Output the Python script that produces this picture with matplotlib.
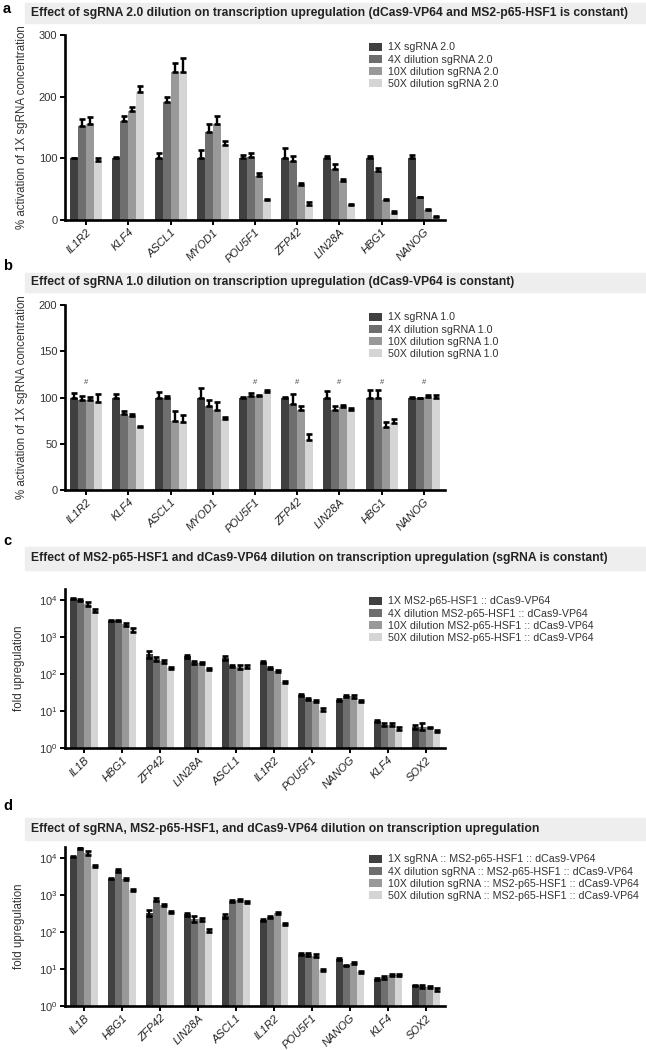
"""
Dilution series of sgRNA / activator components, four bar panels
"""

import matplotlib
matplotlib.use("Agg")
import matplotlib.pyplot as plt
import numpy as np
from matplotlib.patches import Rectangle
from matplotlib.ticker import LogLocator, NullLocator

plt.rcParams['font.family'] = ['Liberation Sans', 'DejaVu Sans']

colors = ['#404040', '#6e6e6e', '#999999', '#d5d5d5']

# panel a
genes_a = ['IL1R2', 'KLF4', 'ASCL1', 'MYOD1', 'POU5F1', 'ZFP42', 'LIN28A', 'HBG1', 'NANOG']
labels_a = ['1X sgRNA 2.0', '4X dilution sgRNA 2.0', '10X dilution sgRNA 2.0', '50X dilution sgRNA 2.0']
a_1x = [100, 100, 100, 100, 100, 100, 101, 100, 100]
a_4x = [153, 160, 192, 143, 102, 96, 82, 79, 37]
a_10x = [155, 177, 240, 155, 72, 56, 63, 32, 17]
a_50x = [95, 207, 240, 122, 32, 25, 25, 12, 5]
a_err_1x = [1, 2, 8, 14, 5, 17, 2, 3, 5]
a_err_4x = [10, 8, 7, 12, 7, 8, 9, 5, 1]
a_err_10x = [12, 6, 14, 13, 5, 4, 3, 2, 1]
a_err_50x = [5, 10, 22, 6, 2, 5, 1, 2, 1]

# panel b
genes_b = genes_a
labels_b = ['1X sgRNA 1.0', '4X dilution sgRNA 1.0', '10X dilution sgRNA 1.0', '50X dilution sgRNA 1.0']
b_1x = [100, 100, 100, 100, 100, 100, 100, 100, 100]
b_4x = [97, 82, 100, 91, 102, 93, 87, 99, 99]
b_10x = [97, 80, 75, 87, 102, 86, 90, 68, 101]
b_50x = [95, 68, 73, 77, 106, 54, 87, 72, 100]
b_err_1x = [5, 4, 6, 10, 1, 1, 7, 8, 1]
b_err_4x = [5, 3, 2, 6, 3, 11, 4, 9, 1]
b_err_10x = [4, 2, 10, 8, 1, 5, 2, 5, 2]
b_err_50x = [9, 1, 8, 2, 2, 7, 2, 5, 3]
b_hash = [True, False, False, False, True, True, True, True, True]

# panel c
genes_c = ['IL1B', 'HBG1', 'ZFP42', 'LIN28A', 'ASCL1', 'IL1R2', 'POU5F1', 'NANOG', 'KLF4', 'SOX2']
labels_c = ['1X MS2-p65-HSF1 :: dCas9-VP64', '4X dilution MS2-p65-HSF1 :: dCas9-VP64',
            '10X dilution MS2-p65-HSF1 :: dCas9-VP64', '50X dilution MS2-p65-HSF1 :: dCas9-VP64']
c_1x = [11000, 2800, 350, 300, 270, 210, 27, 20, 5.3, 3.7]
c_4x = [10000, 2800, 260, 210, 170, 150, 21, 26, 4.3, 3.8]
c_10x = [8000, 2200, 220, 200, 160, 120, 19, 25, 4.3, 3.6]
c_50x = [5300, 1600, 150, 140, 160, 62, 11, 19, 3.3, 2.9]
c_err_1x = [600, 150, 80, 20, 30, 15, 2, 1.5, 0.3, 0.4]
c_err_4x = [500, 150, 30, 20, 10, 10, 1.5, 2, 0.3, 0.8]
c_err_10x = [900, 150, 20, 15, 20, 8, 1, 2, 0.3, 0.2]
c_err_50x = [500, 200, 10, 10, 15, 4, 0.8, 1.5, 0.3, 0.2]

# panel d
genes_d = genes_c
labels_d = ['1X sgRNA :: MS2-p65-HSF1 :: dCas9-VP64', '4X dilution sgRNA :: MS2-p65-HSF1 :: dCas9-VP64',
            '10X dilution sgRNA :: MS2-p65-HSF1 :: dCas9-VP64', '50X dilution sgRNA :: MS2-p65-HSF1 :: dCas9-VP64']
d_1x = [11000, 2800, 330, 300, 270, 210, 26, 19, 5.5, 3.6]
d_4x = [19000, 4700, 750, 230, 700, 260, 25, 12.5, 6, 3.4]
d_10x = [14000, 2700, 550, 220, 750, 330, 23, 14.5, 7, 3.3]
d_50x = [6000, 1400, 350, 110, 650, 170, 9.5, 8.5, 7, 2.8]
d_err_1x = [500, 150, 60, 30, 30, 15, 2, 1.5, 0.3, 0.2]
d_err_4x = [1500, 400, 60, 40, 50, 20, 2.5, 0.6, 0.6, 0.3]
d_err_10x = [1500, 200, 40, 20, 40, 25, 2, 0.8, 0.4, 0.2]
d_err_50x = [400, 100, 20, 8, 50, 10, 0.6, 0.5, 0.4, 0.2]

titles = [
    'Effect of sgRNA 2.0 dilution on transcription upregulation (dCas9-VP64 and MS2-p65-HSF1 is constant)',
    'Effect of sgRNA 1.0 dilution on transcription upregulation (dCas9-VP64 is constant)',
    'Effect of MS2-p65-HSF1 and dCas9-VP64 dilution on transcription upregulation (sgRNA is constant)',
    'Effect of sgRNA, MS2-p65-HSF1, and dCas9-VP64 dilution on transcription upregulation',
]

W, H = 646, 1050


def px_box(left, top, right, bottom):
    # pixel box -> figure fraction rect
    return [left / W, 1 - bottom / H, (right - left) / W, (bottom - top) / H]


def header(fig, letter, band_top, band_bottom, title, letter_y):
    fig.patches.append(Rectangle((25 / W, 1 - band_bottom / H), 1 - 25 / W, (band_bottom - band_top) / H,
                                 transform=fig.transFigure, color='#eeeeee', zorder=0))
    fig.text(31 / W, 1 - (band_top + band_bottom) / 2 / H, title, fontsize=8.7, fontweight='bold',
             color='#222222', va='center', ha='left')
    fig.text(3 / W, 1 - letter_y / H, letter, fontsize=10.5, fontweight='bold', va='center', ha='left')


def bar_panel(ax, genes, series, errs, labels, log=False, symmetric=False):
    n = len(genes)
    x = np.arange(n)
    width = 0.19
    offsets = (np.arange(4) - 1.5) * width
    for i in range(4):
        vals = np.array(series[i], dtype=float)
        err = np.array(errs[i], dtype=float)
        ax.bar(x + offsets[i], vals, width, color=colors[i], label=labels[i], zorder=2)
        lower = err if symmetric else np.zeros_like(err)
        ax.errorbar(x + offsets[i], vals, yerr=[lower, err], fmt='none', ecolor='black',
                    elinewidth=1.7, capsize=2, capthick=1.9, zorder=3)
    ax.set_xlim(-0.5, n - 0.5)
    ax.set_xticks(x)
    ax.set_xticklabels(genes, rotation=45, ha='right', rotation_mode='anchor',
                       fontstyle='italic', fontsize=7.5, color='#222222')
    for side in ['top', 'right']:
        ax.spines[side].set_visible(False)
    for side in ['left', 'bottom']:
        ax.spines[side].set_linewidth(1.9)
    ax.tick_params(axis='both', direction='out', length=3.5, width=1.4, colors='black',
                   labelsize=8, labelcolor='#333333', pad=2)
    ax.tick_params(axis='x', labelcolor='#222222', pad=1.5)
    if log:
        ax.set_yscale('log')
        ax.set_ylim(1, 2e4)
        ax.yaxis.set_major_locator(LogLocator(base=10, numticks=10))
        ax.yaxis.set_minor_locator(NullLocator())
    leg = ax.legend(loc='upper left', bbox_to_anchor=(0.78, 1.0), frameon=False, fontsize=7.7,
                    handlelength=1.2, handleheight=0.75, handletextpad=0.55, labelspacing=0.2,
                    borderaxespad=0.3)
    for t in leg.get_texts():
        t.set_color('#333333')
    return ax


fig = plt.figure(figsize=(W / 100, H / 100), dpi=100)

# a
header(fig, 'a', 3, 23, titles[0], 9)
ax_a = fig.add_axes(px_box(65, 35, 445, 220))
bar_panel(ax_a, genes_a, [a_1x, a_4x, a_10x, a_50x], [a_err_1x, a_err_4x, a_err_10x, a_err_50x], labels_a)
ax_a.set_ylim(0, 300)
ax_a.set_yticks([0, 100, 200, 300])
ax_a.set_ylabel('% activation of 1X sgRNA concentration', fontsize=8.3, color='#333333', labelpad=8)

# b
header(fig, 'b', 273, 292, titles[1], 266)
ax_b = fig.add_axes(px_box(65, 305, 445, 490))
bar_panel(ax_b, genes_b, [b_1x, b_4x, b_10x, b_50x], [b_err_1x, b_err_4x, b_err_10x, b_err_50x], labels_b)
ax_b.set_ylim(0, 200)
ax_b.set_yticks([0, 50, 100, 150, 200])
ax_b.set_ylabel('% activation of 1X sgRNA concentration', fontsize=8.3, color='#333333', labelpad=8)
for i, flag in enumerate(b_hash):
    if flag:
        ax_b.text(i, 116, '#', ha='center', va='center', fontsize=5.5, color='#444444')

# c
header(fig, 'c', 547, 570, titles[2], 541)
ax_c = fig.add_axes(px_box(65, 589, 445, 748))
bar_panel(ax_c, genes_c, [c_1x, c_4x, c_10x, c_50x], [c_err_1x, c_err_4x, c_err_10x, c_err_50x],
          labels_c, log=True, symmetric=True)
ax_c.set_ylabel('fold upregulation', fontsize=8.3, color='#333333', labelpad=10)

# d
header(fig, 'd', 818, 840, titles[3], 806)
ax_d = fig.add_axes(px_box(65, 847, 445, 1006))
bar_panel(ax_d, genes_d, [d_1x, d_4x, d_10x, d_50x], [d_err_1x, d_err_4x, d_err_10x, d_err_50x],
          labels_d, log=True, symmetric=True)
ax_d.set_ylabel('fold upregulation', fontsize=8.3, color='#333333', labelpad=10)

fig.savefig('out.png', dpi=100)
